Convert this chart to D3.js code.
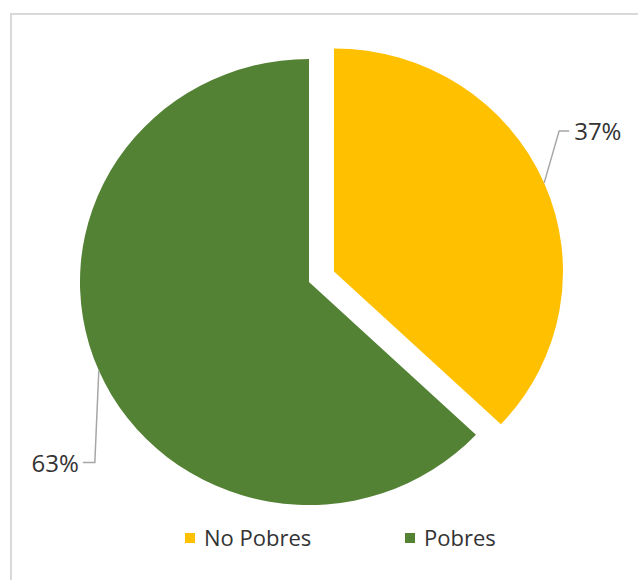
<!DOCTYPE html>
<html>
<head>
<meta charset="utf-8">
<script src="https://cdn.jsdelivr.net/npm/d3@7"></script>
<style>
  body { margin: 0; background: #fff; }
  text { font-family: "Open Sans", sans-serif; fill: #333; }
</style>
</head>
<body>
<div id="chart"></div>
<script>
// Pie data
const categories = ['No Pobres', 'Pobres'];
const values = [37, 63];
const labels = ['37%', '63%'];
const colors = ['#FFC000', '#548235'];

const width = 638, height = 580;

const svg = d3.select('#chart')
    .append('svg')
    .attr('width', width)
    .attr('height', height);

// chart border (runs off right and bottom)
svg.append('rect')
    .attr('x', 11).attr('y', 14)
    .attr('width', 640).attr('height', 580)
    .attr('fill', 'none')
    .attr('stroke', '#d9d9d9')
    .attr('stroke-width', 2);

const cx = 309, cy = 282;
const r = 223;
const sx = 1.027;      // picture is slightly wider than tall
const explode = 26.5;  // pull-out for the first slice

const pie = d3.pie().sort(null).value(d => d);
const arcs = pie(values);
const arc = d3.arc().innerRadius(0).outerRadius(r);

const mid = d => (d.startAngle + d.endAngle) / 2;
const offset = (d, i) => i === 0 ? explode : 0;

const pieG = svg.append('g')
    .attr('transform', `translate(${cx},${cy}) scale(${sx},1)`);

pieG.selectAll('.slice')
    .data(arcs)
    .join('path')
    .classed('slice', true)
    .attr('d', arc)
    .attr('fill', (d, i) => colors[i])
    .attr('transform', (d, i) => {
        let o = offset(d, i);
        return `translate(${o * Math.sin(mid(d))},${-o * Math.cos(mid(d))})`
    });

// edge point of each slice at its middle angle, in page coords
function edgePoint(d, i) {
    let a = mid(d);
    let o = offset(d, i);
    return [cx + (o + r) * Math.sin(a) * sx, cy - (o + r) * Math.cos(a)];
}

// leader lines: elbow offsets from edge point, then text gap
const leaders = [
    { bend: [15, -52], end: [25, -52], anchor: 'start', gap: 5, ty: 9 },
    { bend: [-4, 92], end: [-16, 92], anchor: 'end', gap: -4, ty: 9 }
];

const labelG = svg.append('g');

labelG.selectAll('.leader')
    .data(arcs)
    .join('polyline')
    .classed('leader', true)
    .attr('points', (d, i) => {
        let p = edgePoint(d, i);
        let l = leaders[i];
        return [p, [p[0] + l.bend[0], p[1] + l.bend[1]], [p[0] + l.end[0], p[1] + l.end[1]]]
            .map(q => q.join(',')).join(' ');
    })
    .attr('fill', 'none')
    .attr('stroke', '#a6a6a6')
    .attr('stroke-width', 1.5);

labelG.selectAll('.pct')
    .data(arcs)
    .join('text')
    .classed('pct', true)
    .attr('x', (d, i) => edgePoint(d, i)[0] + leaders[i].end[0] + leaders[i].gap)
    .attr('y', (d, i) => edgePoint(d, i)[1] + leaders[i].end[1] + leaders[i].ty)
    .attr('text-anchor', (d, i) => leaders[i].anchor)
    .attr('font-size', 24)
    .text((d, i) => labels[i]);

// legend
const legendX = d3.scalePoint().domain(categories).range([185, 405]);

const legendG = svg.append('g');

legendG.selectAll('.leg-box')
    .data(categories)
    .join('rect')
    .classed('leg-box', true)
    .attr('x', d => legendX(d))
    .attr('y', 533)
    .attr('width', 10)
    .attr('height', 10)
    .attr('fill', (d, i) => colors[i]);

legendG.selectAll('.leg-text')
    .data(categories)
    .join('text')
    .classed('leg-text', true)
    .attr('x', d => legendX(d) + 19)
    .attr('y', 546)
    .attr('font-size', 22)
    .text(d => d);
</script>
</body>
</html>
